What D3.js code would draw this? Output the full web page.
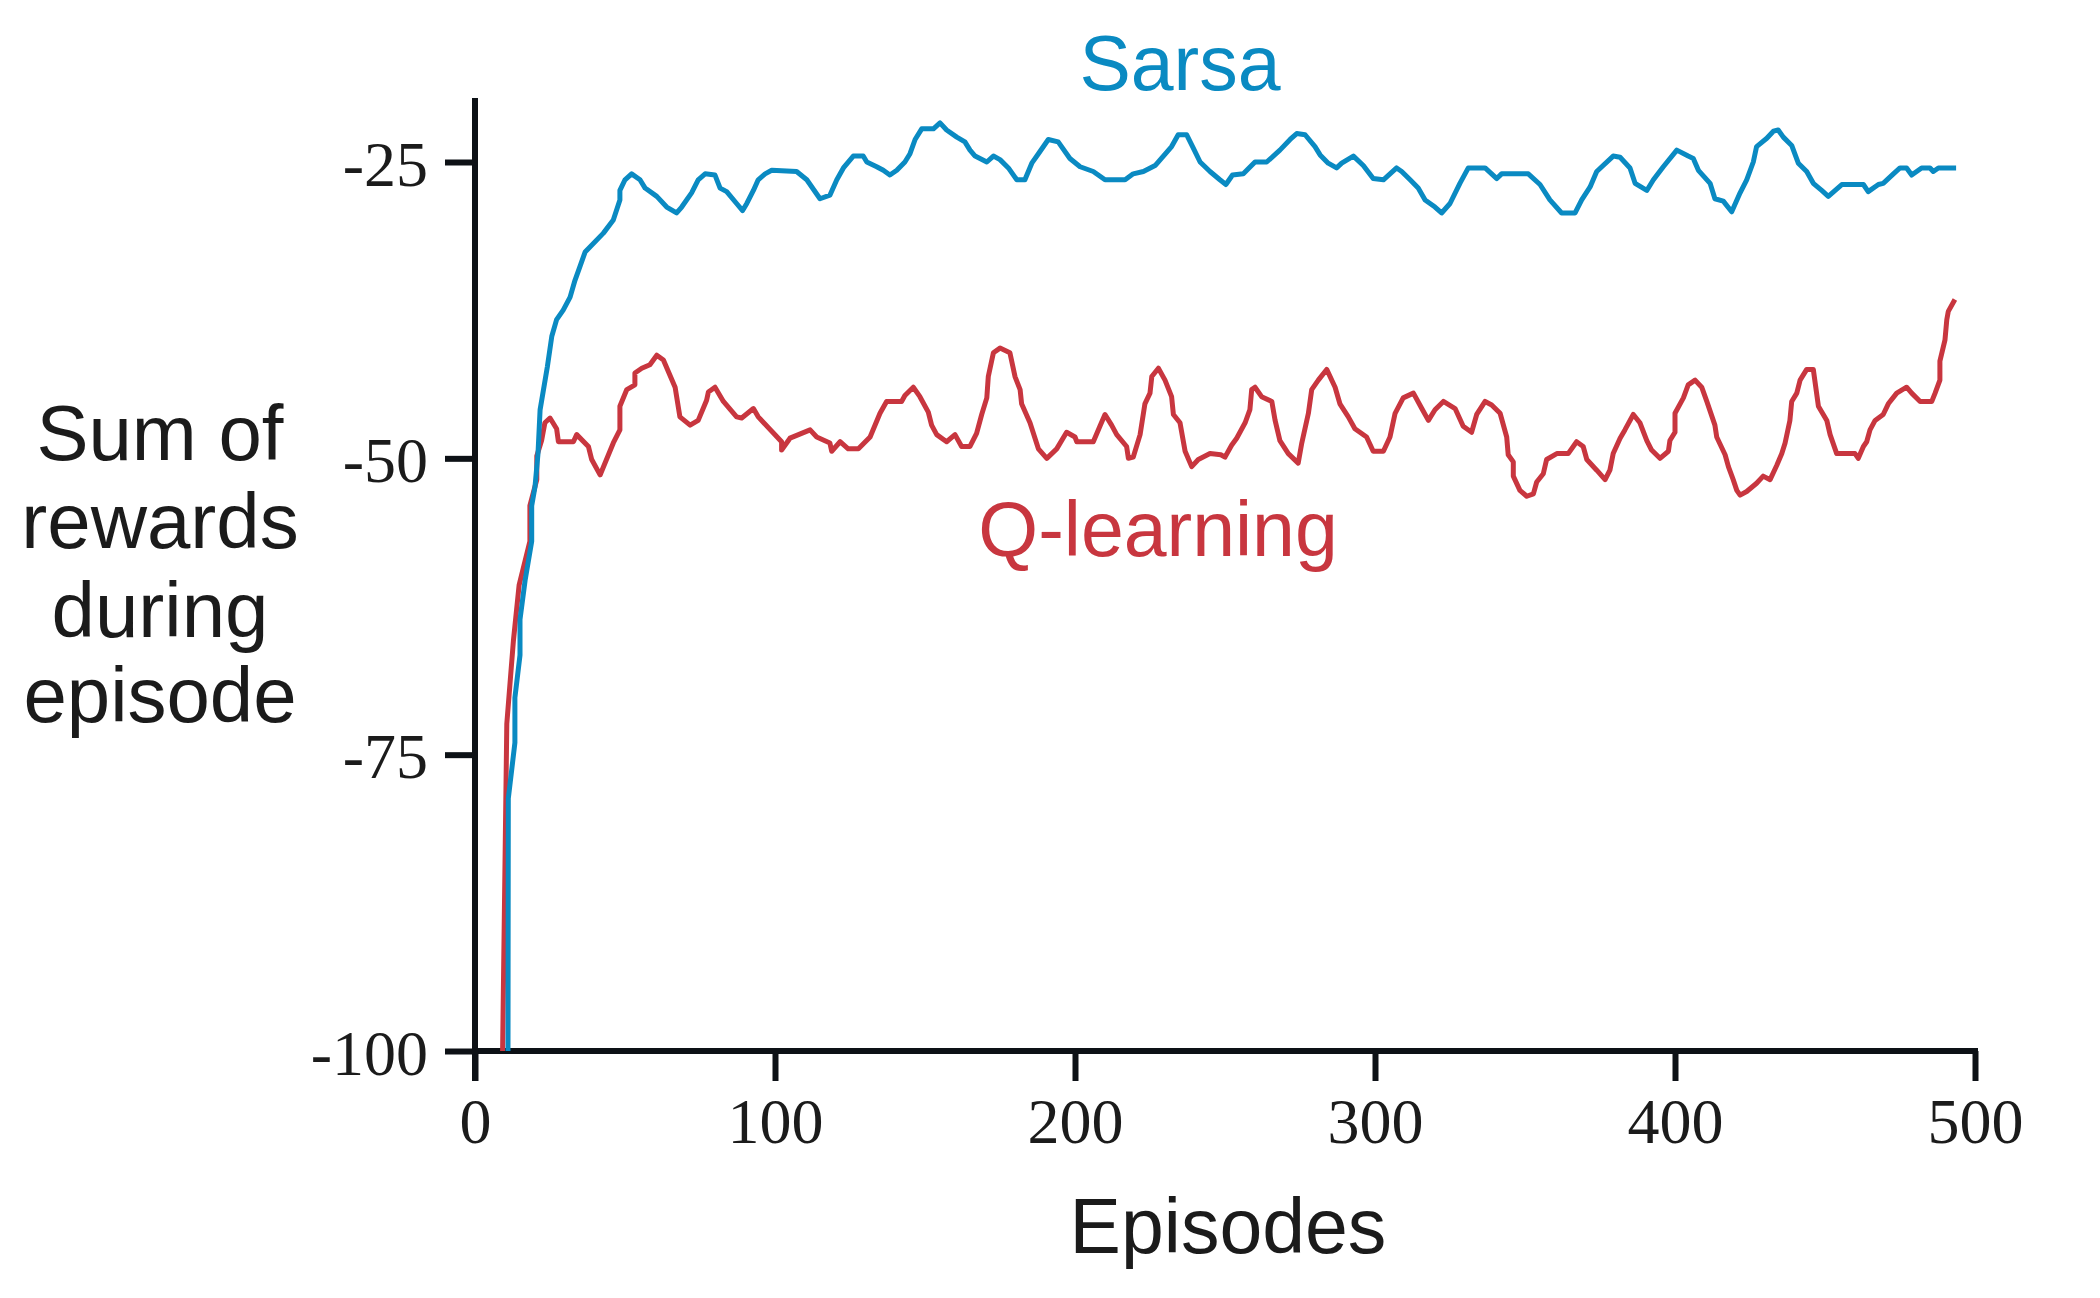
<!DOCTYPE html>
<html>
<head>
<meta charset="utf-8">
<script src="https://cdn.jsdelivr.net/npm/d3@7/dist/d3.min.js"></script>
<style>
  html, body { margin: 0; padding: 0; background: #ffffff; }
  svg { display: block; }
</style>
</head>
<body>
<svg id="chart" width="2100" height="1298"></svg>
<script>
// ---------- data ----------
const xTicks = [0, 100, 200, 300, 400, 500];
const yTicks = [-25, -50, -75, -100];
const seriesNames = ["Sarsa", "Q-learning"];
const yTitleLines = ["Sum of", "rewards", "during", "episode"];
const xTitle = "Episodes";

const sarsaEpisodes = [11,11.1,13.3,13.3,15,15,16.7,18.9,18.9,20,21,21.7,24.1,25.6,27.2,29.4,31.7,33.3,35,36.7,42.8,46.1,48.3,48.3,50,52.2,55,56.7,60.6,63.9,67.2,68.9,72.2,74.4,76.7,80,81.7,83.9,87.2,89.2,90.6,92.8,94.4,96.7,98.9,107.2,110.6,115,118.3,120.6,122.8,126.1,129.4,130.6,133.9,136.1,138.3,140.6,143.3,145,146.7,148.9,152.8,155,157.2,160.6,163.3,165,166.7,170.6,172.8,175,177.8,180.6,183.3,185.6,187.8,191.1,194.4,198.3,201.7,206.1,210,216.7,219.4,222.8,226.7,232.2,234.4,237.2,239.4,241.7,245,248.3,250.3,252.5,256.1,260,263.9,268.3,271.7,273.9,276.7,280,281.7,284.4,287.2,288.9,292.8,296.1,299.4,302.8,307.2,308.9,311.7,314.4,316.7,320,322.2,325,328.3,331.1,336.7,340.6,342.2,351.1,355,358.3,362.2,366.7,368.9,371.7,373.9,379.4,381.7,385,386.7,390.6,392.8,396.1,400.6,404.4,406.1,407.8,411.7,413.3,416.1,418.9,421.7,423.9,426.1,427.2,430.6,432.8,434.4,436.1,438.9,441.1,443.9,446.1,448.9,451.1,455.6,462.8,464.4,467.8,469.4,472.8,475,477.2,478.9,482.2,485,486.1,487.8,493.7];
const sarsaRewards = [-100,-78.7,-74,-70.2,-66.6,-63.6,-60.3,-57,-54,-52.4,-49.6,-45.9,-42.3,-39.7,-38.3,-37.5,-36.4,-35,-33.8,-32.6,-31,-29.9,-28.2,-27.4,-26.5,-26,-26.5,-27.2,-27.9,-28.8,-29.3,-28.8,-27.6,-26.5,-26,-26.1,-27.2,-27.5,-28.5,-29.1,-28.5,-27.4,-26.5,-26,-25.7,-25.8,-26.5,-28.1,-27.8,-26.5,-25.5,-24.5,-24.5,-25,-25.4,-25.7,-26.1,-25.7,-25,-24.3,-23.1,-22.2,-22.2,-21.7,-22.3,-22.9,-23.3,-24,-24.5,-25,-24.5,-24.8,-25.5,-26.5,-26.5,-25.1,-24.3,-23.1,-23.3,-24.7,-25.4,-25.8,-26.5,-26.5,-26,-25.8,-25.3,-23.7,-22.7,-22.7,-23.8,-25,-25.8,-26.5,-26.9,-26.1,-26,-25,-25,-24,-23.1,-22.6,-22.7,-23.7,-24.4,-25.1,-25.5,-25.1,-24.5,-25.3,-26.4,-26.5,-25.5,-25.8,-26.5,-27.2,-28.2,-28.8,-29.3,-28.5,-26.8,-25.5,-25.5,-26.4,-26,-26,-26.9,-28.2,-29.3,-29.3,-28.2,-27.1,-25.8,-24.5,-24.6,-25.5,-26.8,-27.4,-26.5,-25.4,-24,-24.5,-24.7,-25.7,-26.8,-28.1,-28.3,-29.2,-27.6,-26.5,-25,-23.7,-23,-22.4,-22.3,-22.9,-23.6,-25.1,-25.8,-26.8,-27.4,-27.9,-26.9,-26.9,-27.5,-26.9,-26.8,-26,-25.5,-25.5,-26.1,-25.5,-25.5,-25.8,-25.5,-25.5];

const qEpisodes = [9.2,10.6,12.8,14.7,18.3,18.3,20.6,20.6,22.2,23.3,25,27.2,27.8,32.8,33.9,37.8,38.9,41.7,46.1,48.3,48.3,50.6,53.3,53.3,55.6,58.3,60.6,62.8,66.7,68.3,71.7,74.4,77.2,77.8,80,82.8,87.2,88.9,92.8,94.4,102.2,102.2,105,111.7,113.9,118.3,118.9,121.7,124.4,127.8,131.7,135,137.2,142.2,143.3,146.1,148.3,151.1,152.2,153.9,157.2,160,162.2,165,167.2,168.9,170.6,171.1,172.8,175,178.3,180,181.7,182.2,185,187.8,190.6,193.9,197.2,200,200.6,206.1,208.3,210,212.2,213.9,217.2,217.8,219.4,221.7,223.3,225,225.6,227.8,230,232.2,232.8,235,236.7,238.9,241.1,245,248.6,250,252.2,253.9,256.7,258.3,258.9,260,262.2,265.6,266.7,268.3,271.1,274.4,275.6,277.8,278.9,281.1,283.9,286.7,288.3,291.1,293.3,297.2,299.4,302.8,305,306.7,309.4,312.8,315.6,317.8,320,322.8,326.7,329.4,332.2,333.9,336.7,338.9,341.7,343.9,344.4,346.1,346.1,348.3,350.6,352.8,353.9,356.1,357.2,360.6,364.4,367.2,369.4,370.6,373.9,376.7,378.3,379.4,381.7,383.3,386.1,388.3,390.6,392.2,395,397.8,398.3,400,400,402.8,404.4,406.7,408.9,410.6,413.3,413.9,416.7,417.8,419.4,420.6,421.7,423.9,427.2,429.4,431.7,433.9,435.6,436.7,438.3,438.9,440.6,441.7,443.9,446.1,447.8,450.6,451.7,453.9,460,461.1,462.8,463.9,465,466.7,469.4,471.1,473.9,477.2,478.9,481.7,485.6,486.7,488.3,488.3,490,490.6,491.1,493.3];
const qRewards = [-100,-72.4,-65.4,-60.7,-57,-54,-51.8,-49.8,-48.5,-47,-46.6,-47.5,-48.6,-48.6,-48,-49,-50.1,-51.4,-48.7,-47.6,-45.6,-44.2,-43.8,-42.8,-42.4,-42.1,-41.3,-41.7,-44,-46.5,-47.2,-46.8,-45.1,-44.4,-44,-45.2,-46.5,-46.6,-45.8,-46.5,-48.6,-49.3,-48.3,-47.6,-48.2,-48.7,-49.4,-48.6,-49.2,-49.2,-48.2,-46.2,-45.2,-45.2,-44.7,-44,-44.8,-46.1,-47.2,-48,-48.6,-48,-49,-49,-47.9,-46.3,-44.9,-43.1,-41.1,-40.7,-41.1,-43.1,-44.2,-45.4,-47,-49.2,-50,-49.2,-47.8,-48.2,-48.6,-48.6,-47.3,-46.3,-47.2,-48,-49,-50,-49.9,-48,-45.4,-44.5,-43.1,-42.4,-43.4,-44.8,-46.3,-47,-49.4,-50.7,-50.1,-49.6,-49.7,-49.9,-48.9,-48.3,-47,-45.9,-44.2,-44,-44.8,-45.2,-46.8,-48.5,-49.6,-50.4,-48.7,-46.2,-44.2,-43.4,-42.5,-44,-45.4,-46.5,-47.5,-48.2,-49.4,-49.4,-48.2,-46.2,-44.9,-44.5,-45.8,-46.8,-45.9,-45.2,-45.8,-47.3,-47.8,-46.3,-45.2,-45.5,-46.2,-48.2,-49.7,-50.3,-51.5,-52.7,-53.2,-53,-52,-51.3,-50.1,-49.6,-49.6,-48.6,-49,-50.1,-51,-51.8,-51,-49.6,-48.3,-47.6,-46.3,-47,-48.5,-49.3,-50,-49.4,-48.5,-47.8,-46.2,-44.9,-43.8,-43.4,-44,-45.2,-47.2,-48.2,-49.7,-50.7,-51.8,-52.7,-53.1,-52.8,-52.1,-51.5,-51.8,-50.6,-49.6,-48.7,-46.8,-45.2,-44.5,-43.4,-42.5,-42.5,-45.6,-46.8,-48,-49.6,-49.6,-50,-49,-48.6,-47.6,-46.8,-46.3,-45.4,-44.5,-44,-44.5,-45.2,-45.2,-44.5,-43.4,-41.8,-40,-38.3,-37.6,-36.6];

// ---------- drawing ----------
const BLUE = "#0a8ac2";
const RED = "#c8363f";
const INK = "#0d1116";
const TEXT = "#1b1b1b";

const svg = d3.select("#chart");
svg.append("rect").attr("width", 2100).attr("height", 1298).attr("fill", "#ffffff");

const x = d3.scaleLinear().domain([0, 500]).range([475, 1975]);
const y = d3.scaleLinear().domain([-100, -25]).range([1051, 162]);
const yTop = -19.6;

const tickLen = 30;
const axisWidth = 6;
const fmt = d => String(d);   // plain hyphen-minus, as in the original

// x axis
const xAxis = d3.axisBottom(x).tickValues(xTicks).tickSize(tickLen).tickSizeOuter(0).tickFormat(fmt);
const gx = svg.append("g").attr("transform", `translate(0,${y(-100)})`).call(xAxis);
gx.select(".domain").attr("stroke", INK).attr("stroke-width", axisWidth).attr("d", `M${x(0)},0H${x(500) + axisWidth / 2}`);
gx.selectAll(".tick line").attr("stroke", INK).attr("stroke-width", axisWidth);
gx.selectAll(".tick text")
  .attr("fill", TEXT)
  .attr("font-family", "'Liberation Serif', 'Times New Roman', serif")
  .attr("font-size", 64)
  .attr("dy", null)
  .attr("y", 92);

// y axis
const yAxis = d3.axisLeft(y).tickValues(yTicks).tickSize(tickLen).tickSizeOuter(0).tickPadding(17).tickFormat(fmt);
const gy = svg.append("g").attr("transform", `translate(${x(0)},0)`).call(yAxis);
gy.select(".domain").attr("stroke", INK).attr("stroke-width", axisWidth).attr("d", `M0,${y(yTop)}V${y(-100) + tickLen}`);
gy.selectAll(".tick line").attr("stroke", INK).attr("stroke-width", axisWidth);
gy.selectAll(".tick text")
  .attr("fill", TEXT)
  .attr("font-family", "'Liberation Serif', 'Times New Roman', serif")
  .attr("font-size", 64)
  .attr("dy", null)
  .attr("y", 23);

// lines
const line = d3.line().x(d => x(d[0])).y(d => y(d[1]));
const qData = d3.zip(qEpisodes, qRewards);
const sData = d3.zip(sarsaEpisodes, sarsaRewards);

svg.append("path").datum(qData)
  .attr("d", line).attr("fill", "none").attr("stroke", RED)
  .attr("stroke-width", 5).attr("stroke-linejoin", "round");
svg.append("path").datum(sData)
  .attr("d", line).attr("fill", "none").attr("stroke", BLUE)
  .attr("stroke-width", 5).attr("stroke-linejoin", "round");

// series labels
const sansFont = "'Liberation Sans', Arial, Helvetica, sans-serif";
svg.append("text").text(seriesNames[0])
  .attr("x", 1180).attr("y", 90).attr("text-anchor", "middle")
  .attr("font-family", sansFont).attr("font-size", 77).attr("fill", BLUE);
svg.append("text").text(seriesNames[1])
  .attr("x", 1158).attr("y", 556).attr("text-anchor", "middle")
  .attr("font-family", sansFont).attr("font-size", 77).attr("fill", RED);

// axis titles
svg.append("text").text(xTitle)
  .attr("x", 1228).attr("y", 1253).attr("text-anchor", "middle")
  .attr("font-family", sansFont).attr("font-size", 77).attr("fill", TEXT);

const yTitleBaselines = [460, 548, 637, 722];
const yt = svg.append("text").attr("text-anchor", "middle")
  .attr("font-family", sansFont).attr("font-size", 78).attr("fill", TEXT);
yTitleLines.forEach((s, i) => {
  yt.append("tspan").attr("x", 160).attr("y", yTitleBaselines[i]).text(s);
});
</script>
</body>
</html>
